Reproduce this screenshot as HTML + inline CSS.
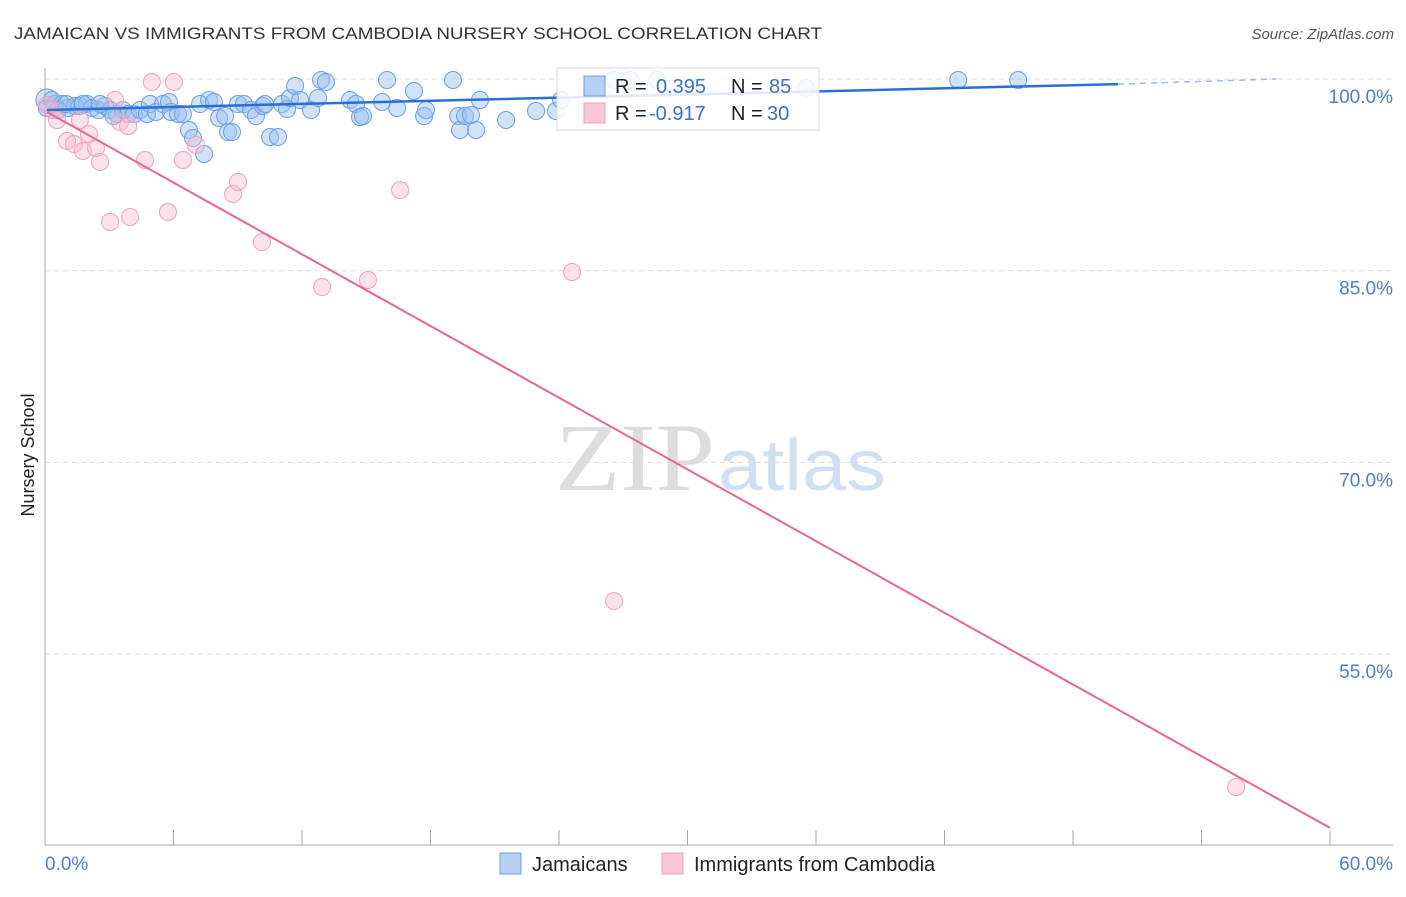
<!DOCTYPE html>
<html><head><meta charset="utf-8"><style>
body{margin:0;background:#fff;font-family:"Liberation Sans",sans-serif;}
</style></head><body>
<svg width="1406" height="892" xmlns="http://www.w3.org/2000/svg">
<text x="14" y="39" font-size="17" fill="#333" textLength="808" lengthAdjust="spacingAndGlyphs">JAMAICAN VS IMMIGRANTS FROM CAMBODIA NURSERY SCHOOL CORRELATION CHART</text>
<text x="1394" y="39" font-size="15" fill="#555" font-style="italic" text-anchor="end">Source: ZipAtlas.com</text>
<text x="555" y="490" font-size="96" fill="#ddd" textLength="160" lengthAdjust="spacingAndGlyphs" font-family="Liberation Serif,serif">ZIP</text>
<text x="718" y="490" font-size="72" fill="#cfe0f3" textLength="168" lengthAdjust="spacingAndGlyphs">atlas</text>
<g id="grid"></g><g id="axes"></g><g id="pts"></g><g id="lines"></g>
<text transform="translate(34,455) rotate(-90)" font-size="18" fill="#222" text-anchor="middle">Nursery School</text>
<text x="45" y="870" font-size="19" fill="#4a80d0">0.0%</text>
<text x="1393" y="870" font-size="19" fill="#4a80d0" text-anchor="end">60.0%</text>
<g>
<rect x="557" y="68" width="262" height="62" fill="#fff" fill-opacity="0.85" stroke="#ddd"/>
<rect x="584" y="76" width="21" height="20" fill="#b5d0f3" stroke="#6a9fe0"/>
<rect x="584" y="103" width="21" height="20" fill="#fcc8d6" stroke="#f0a0b8"/>
<text x="615" y="93" font-size="20" fill="#222">R = <tspan x="656" fill="#3a70d0">0.395</tspan><tspan x="731">N = </tspan><tspan x="769" fill="#3a70d0">85</tspan></text>
<text x="615" y="120" font-size="20" fill="#222">R = <tspan x="649" fill="#3a70d0">-0.917</tspan><tspan x="731">N = </tspan><tspan x="767" fill="#3a70d0">30</tspan></text>
</g>
<g><rect x="500" y="853" width="21" height="21" fill="#b5d0f3" stroke="#6a9fe0"/><text x="532" y="871" font-size="20" fill="#222">Jamaicans</text></g>
<g><rect x="662" y="853" width="21" height="21" fill="#fcc8d6" stroke="#f0a0b8"/><text x="694" y="871" font-size="20" fill="#222">Immigrants from Cambodia</text></g>
</svg>
<script>
const yTicks=[100,85,70,55];
const blueX=[0.09,0.47,0.79,1.07,1.40,1.63,1.96,2.19,2.48,2.80,3.04,3.36,3.64,3.88,4.16,4.44,4.76,4.90,5.18,5.51,5.79,5.88,6.21,6.44,6.72,6.91,7.24,7.43,7.66,7.89,8.13,8.41,8.55,8.73,9.01,9.29,9.62,9.85,10.18,10.27,10.51,10.88,11.07,11.30,11.44,11.68,11.91,12.42,12.75,12.89,13.12,14.24,14.52,14.71,14.85,15.74,15.97,16.44,17.23,17.70,17.79,19.05,19.29,19.38,19.61,19.89,20.13,20.31,21.53,22.93,23.86,24.10,26.57,27.32,28.58,35.54,42.64,45.44,0.09,0.33,0.61,0.98,1.77,2.57,3.2];
const blueY=[98.36,98.04,98.04,97.73,97.89,97.89,98.04,97.73,97.57,97.89,97.57,97.26,97.57,97.26,97.26,97.57,97.26,98.04,97.42,98.04,98.20,97.42,97.26,97.26,96.01,95.38,98.04,94.13,98.36,98.20,96.95,97.10,95.85,95.85,98.04,98.04,97.57,97.10,97.89,98.04,95.46,95.46,98.04,97.65,98.51,99.45,98.36,97.57,98.51,99.92,99.77,98.36,98.04,97.03,97.10,98.20,99.92,97.73,99.06,97.10,97.57,99.92,97.10,96.01,97.10,97.18,96.01,98.36,96.79,97.50,97.50,98.36,99.92,99.92,99.92,99.30,99.92,99.92,97.73,98.36,97.57,98.04,98.04,98.04,97.1];
const pinkX=[0.09,0.37,0.56,1.03,1.35,1.63,1.77,2.05,2.38,2.57,3.04,3.27,3.50,3.88,3.97,4.67,4.99,5.74,6.02,6.44,7.05,8.78,9.01,10.13,12.94,15.08,16.58,24.61,26.57,55.62];
const pinkY=[97.97,97.57,96.79,95.15,94.91,96.79,94.37,95.70,94.60,93.51,88.81,98.36,96.64,96.32,89.20,93.66,99.77,89.59,99.77,93.66,94.84,91.0,91.94,87.24,83.72,84.27,91.31,84.90,59.15,44.60];
const blueTrend=[0.09,97.57,50.1,99.6,57.5,100.0];
const pinkTrend=[0.09,97.42,60,41.4];
const X=v=>45+v/6*128.5, Y=v=>79+(100-v)/15*191.7;
const NS="http://www.w3.org/2000/svg";
function mk(p,t,a){const e=document.createElementNS(NS,t);for(const k in a)e.setAttribute(k,a[k]);document.getElementById(p).appendChild(e);return e;}
yTicks.forEach(t=>{
 const g=mk('grid','line',{x1:45,x2:1393,y1:Y(t),y2:Y(t),stroke:'#ddd','stroke-dasharray':'5,4'});
 
 
 const tx=mk('grid','text',{x:1393,y:Y(t)+24,'font-size':19,fill:'#4a80d0','text-anchor':'end'});
 tx.textContent=t.toFixed(1)+'%';
 
 
});
const ax=mk('axes','line',{x1:45,x2:45,y1:68,y2:845,stroke:'#aaa'});


const bx=mk('axes','line',{x1:45,x2:1393,y1:845,y2:845,stroke:'#aaa'});


for(let i=1;i<=10;i++){const t=mk('axes','line',{x1:X(i*6),x2:X(i*6),y1:830,y2:845,stroke:'#aaa'});
 
 }
blueX.forEach((x,i)=>{const c=mk('pts','circle',{cx:X(x),cy:Y(blueY[i]),r:i==0?11:8.5,fill:'rgba(150,190,240,0.45)',stroke:'#6a9fe0','stroke-width':1});
 
 });
pinkX.forEach((x,i)=>{const c=mk('pts','circle',{cx:X(x),cy:Y(pinkY[i]),r:8.5,fill:'rgba(248,185,205,0.4)',stroke:'#f0a0b8','stroke-width':1});
 
 });
const b1=mk('lines','line',{x1:X(blueTrend[0]),y1:Y(blueTrend[1]),x2:X(blueTrend[2]),y2:Y(blueTrend[3]),stroke:'#2a6fd6','stroke-width':2.5});


const b2=mk('lines','line',{x1:X(blueTrend[2]),y1:Y(blueTrend[3]),x2:X(blueTrend[4]),y2:Y(blueTrend[5]),stroke:'#9bbbe8','stroke-width':1.5,'stroke-dasharray':'6,5'});


const p1=mk('lines','line',{x1:X(pinkTrend[0]),y1:Y(pinkTrend[1]),x2:X(pinkTrend[2]),y2:Y(pinkTrend[3]),stroke:'#e8659a','stroke-width':2});


</script>
</body></html>
